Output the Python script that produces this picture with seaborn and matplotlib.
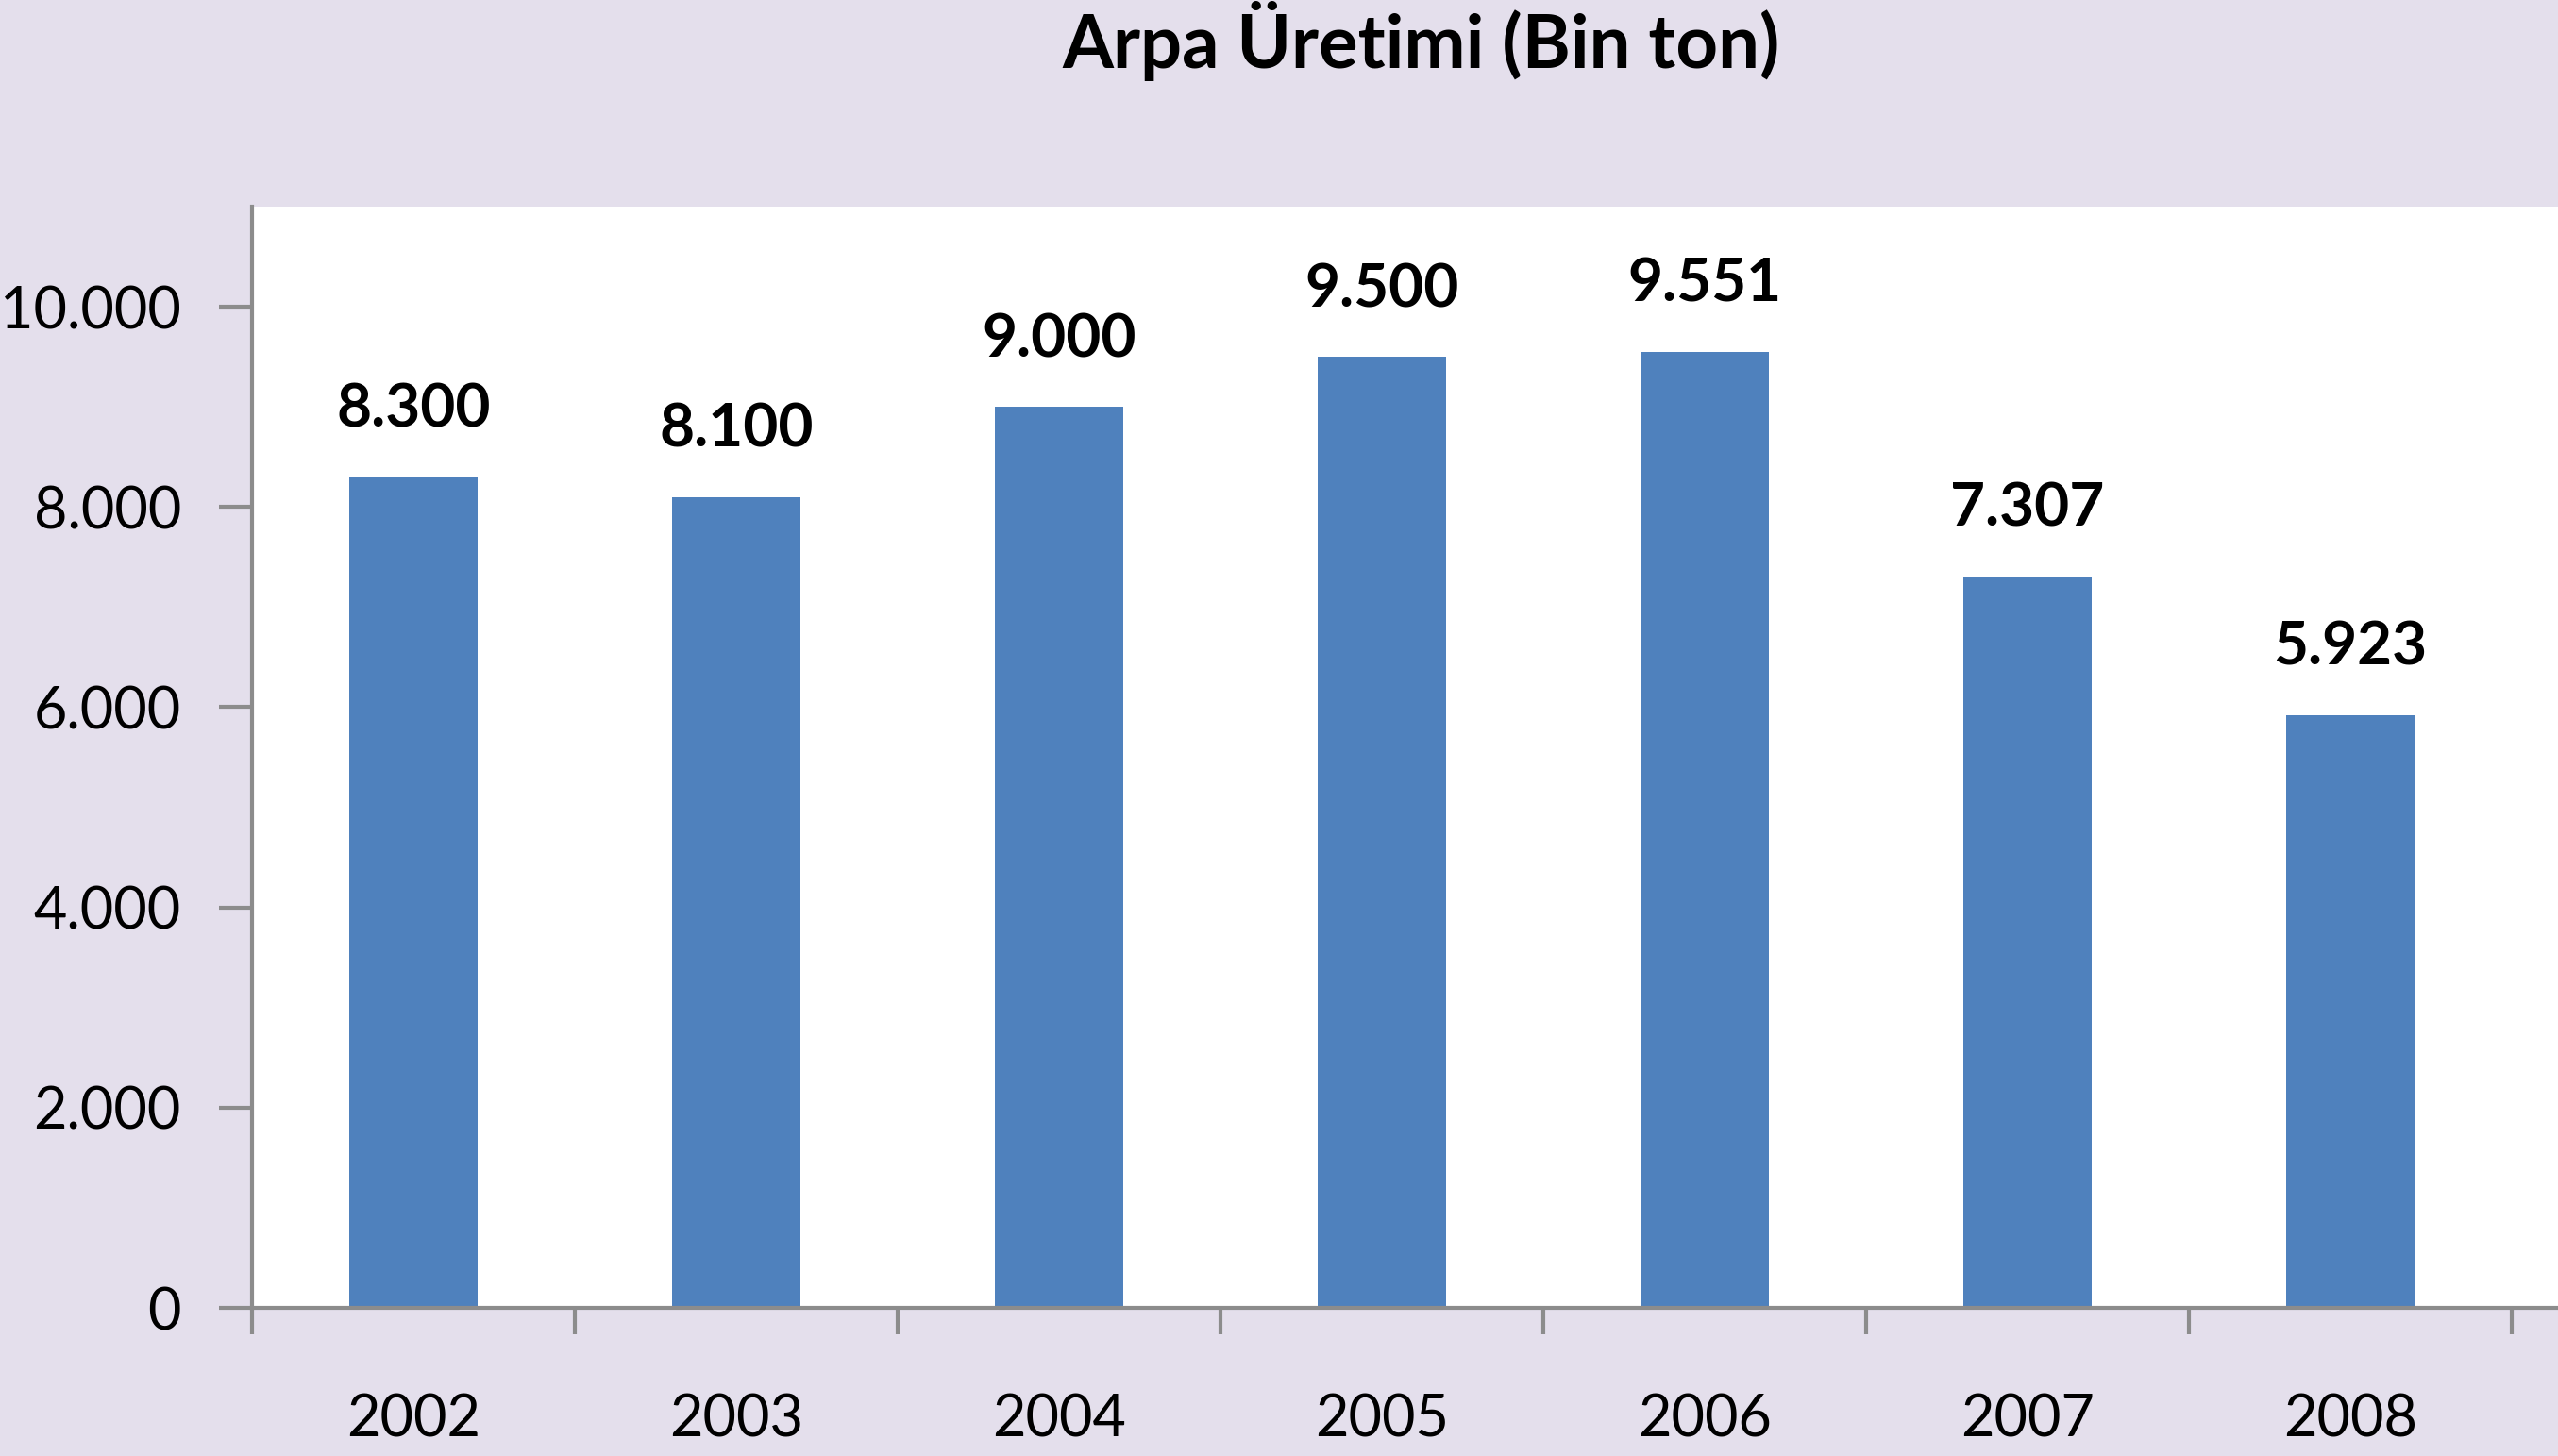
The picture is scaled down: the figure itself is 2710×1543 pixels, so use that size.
import matplotlib
matplotlib.use("Agg")
import matplotlib.pyplot as plt
import seaborn as sns
import pandas as pd

years = ["2002", "2003", "2004", "2005", "2006", "2007", "2008"]
production = [8300, 8100, 9000, 9500, 9551, 7307, 5923]
yticks = [0, 2000, 4000, 6000, 8000, 10000]
title = "Arpa Üretimi (Bin ton)"

BG = "#E4DFEC"
BAR = "#4F81BD"
SPINE = "#8C8C8C"

sns.set_theme(style="white")
plt.rcParams['font.family'] = ['Lato', 'DejaVu Sans']

def fmt(v):
    return f"{int(v):,}".replace(",", ".")

df = pd.DataFrame({"year": years, "value": production})

W, H = 2710, 1543
fig = plt.figure(figsize=(W / 100, H / 100), dpi=100, facecolor=BG)
ax = fig.add_axes([267 / W, (H - 1386) / H, (W - 267) / W, (1386 - 219) / H])
ax.set_facecolor("white")

sns.barplot(data=df, x="year", y="value", color=BAR, width=0.4, saturation=1,
            ax=ax, edgecolor="none")

ax.set_xlim(-0.5, -0.5 + (W - 267) / 342)
ax.set_ylim(0, 11000)
ax.set_yticks(yticks)
ax.set_yticklabels([fmt(t) for t in yticks], fontsize=44, color="black")
ax.set_xlabel("")
ax.set_ylabel("")

# x ticks at category boundaries, labels at centers
ax.set_xticks([i + 0.5 for i in range(-1, len(years))], minor=False)
ax.set_xticklabels([""] * (len(years) + 1))
ax.set_xticks(range(len(years)), minor=True)
ax.set_xticklabels(years, minor=True, fontsize=44, color="black")
ax.tick_params(axis="x", which="minor", bottom=True, length=0, pad=65)
ax.tick_params(axis="x", which="major", bottom=True, length=20, width=3,
               color=SPINE, direction="out")
ax.tick_params(axis="y", left=True, length=25, width=3, color=SPINE,
               direction="out", pad=29)

for s in ["top", "right"]:
    ax.spines[s].set_visible(False)
for s in ["left", "bottom"]:
    ax.spines[s].set_color(SPINE)
    ax.spines[s].set_linewidth(3)

for i, v in enumerate(production):
    ax.annotate(fmt(v), (i, v), xytext=(0, 31), textcoords="offset points",
                ha="center", va="bottom", fontsize=46, fontweight="bold", color="black")

fig.text(((267 + W) / 2 + 17) / W, 1 - 72 / H, title, ha="center", va="baseline",
         fontsize=56, fontweight="bold", color="black")

fig.savefig("out.png", dpi=100, facecolor=BG)
